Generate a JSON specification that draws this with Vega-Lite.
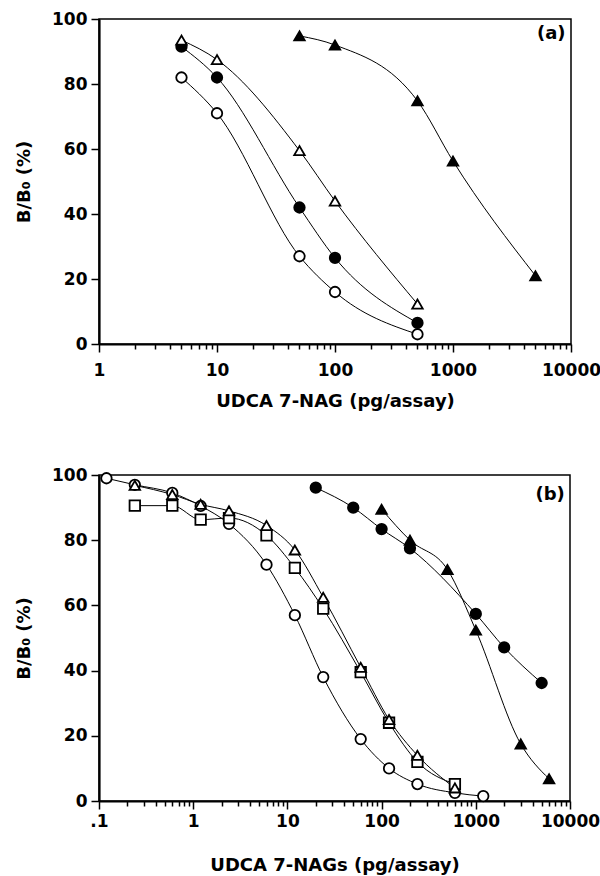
{
  "$schema": "https://vega.github.io/schema/vega-lite/v6.json",
  "background": "white",
  "padding": {"left": 14, "top": 9, "right": 2, "bottom": 1},
  "spacing": 54,
  "config": {
    "font": "DejaVu Sans",
    "view": {"stroke": "black", "strokeWidth": 1.5},
    "axis": {
      "grid": false,
      "domainColor": "black", "domainWidth": 2.2,
      "tickColor": "black", "tickWidth": 1.5, "tickSize": 8,
      "labelFont": "DejaVu Sans", "labelFontWeight": "bold", "labelFontSize": 17, "labelColor": "black",
      "titleFont": "DejaVu Sans", "titleFontWeight": "bold", "titleFontSize": 18, "titleColor": "black"
    }
  },
  "datasets": {
    "a": [
      {"s": "oc", "x": 5, "y": 82}, {"s": "oc", "x": 10, "y": 71}, {"s": "oc", "x": 50, "y": 27}, {"s": "oc", "x": 100, "y": 16}, {"s": "oc", "x": 500, "y": 3},
      {"s": "fc", "x": 5, "y": 91.5}, {"s": "fc", "x": 10, "y": 82}, {"s": "fc", "x": 50, "y": 42}, {"s": "fc", "x": 100, "y": 26.5}, {"s": "fc", "x": 500, "y": 6.5},
      {"s": "ot", "x": 5, "y": 93.5}, {"s": "ot", "x": 10, "y": 87.5}, {"s": "ot", "x": 50, "y": 59.5}, {"s": "ot", "x": 100, "y": 44}, {"s": "ot", "x": 500, "y": 12.3},
      {"s": "ft", "x": 50, "y": 94.8}, {"s": "ft", "x": 100, "y": 92}, {"s": "ft", "x": 500, "y": 74.8}, {"s": "ft", "x": 1000, "y": 56.3}, {"s": "ft", "x": 5000, "y": 21}
    ],
    "b": [
      {"s": "oc", "x": 0.12, "y": 99}, {"s": "oc", "x": 0.24, "y": 97}, {"s": "oc", "x": 0.6, "y": 94.5}, {"s": "oc", "x": 1.2, "y": 90.5}, {"s": "oc", "x": 2.4, "y": 85}, {"s": "oc", "x": 6, "y": 72.5}, {"s": "oc", "x": 12, "y": 57}, {"s": "oc", "x": 24, "y": 38}, {"s": "oc", "x": 60, "y": 19}, {"s": "oc", "x": 120, "y": 10}, {"s": "oc", "x": 240, "y": 5.2}, {"s": "oc", "x": 600, "y": 2.5}, {"s": "oc", "x": 1200, "y": 1.5},
      {"s": "os", "x": 0.24, "y": 90.6}, {"s": "os", "x": 0.6, "y": 90.6}, {"s": "os", "x": 1.2, "y": 86.3}, {"s": "os", "x": 2.4, "y": 86.8}, {"s": "os", "x": 6, "y": 81.5}, {"s": "os", "x": 12, "y": 71.5}, {"s": "os", "x": 24, "y": 59}, {"s": "os", "x": 60, "y": 39.5}, {"s": "os", "x": 120, "y": 24}, {"s": "os", "x": 240, "y": 12}, {"s": "os", "x": 600, "y": 5.2},
      {"s": "ot", "x": 0.24, "y": 96.8}, {"s": "ot", "x": 0.6, "y": 94}, {"s": "ot", "x": 1.2, "y": 91}, {"s": "ot", "x": 2.4, "y": 89}, {"s": "ot", "x": 6, "y": 84.5}, {"s": "ot", "x": 12, "y": 77}, {"s": "ot", "x": 24, "y": 62.5}, {"s": "ot", "x": 60, "y": 41}, {"s": "ot", "x": 120, "y": 25}, {"s": "ot", "x": 240, "y": 14}, {"s": "ot", "x": 600, "y": 4},
      {"s": "fc", "x": 20, "y": 96.1}, {"s": "fc", "x": 50, "y": 90}, {"s": "fc", "x": 100, "y": 83.4}, {"s": "fc", "x": 200, "y": 77.5}, {"s": "fc", "x": 1000, "y": 57.4}, {"s": "fc", "x": 2000, "y": 47.1}, {"s": "fc", "x": 5000, "y": 36.2},
      {"s": "ft", "x": 100, "y": 89.5}, {"s": "ft", "x": 200, "y": 80}, {"s": "ft", "x": 500, "y": 71}, {"s": "ft", "x": 1000, "y": 52.4}, {"s": "ft", "x": 3000, "y": 17.5}, {"s": "ft", "x": 6000, "y": 6.8}
    ],
    "labA": [{"t": "(a)"}],
    "labB": [{"t": "(b)"}]
  },
  "vconcat": [
    {
      "width": 472, "height": 325,
      "layer": [
        {
          "data": {"name": "a"},
          "mark": {"type": "line", "interpolate": "monotone", "color": "black", "strokeWidth": 1},
          "encoding": {
            "x": {"field": "x", "type": "quantitative", "scale": {"type": "log", "domain": [1, 10000]},
              "axis": {"title": "UDCA 7-NAG (pg/assay)", "values": [1,2,3,4,5,6,7,8,9,10,20,30,40,50,60,70,80,90,100,200,300,400,500,600,700,800,900,1000,2000,3000,4000,5000,6000,7000,8000,9000,10000],
                "labelExpr": "(datum.value==1||datum.value==10||datum.value==100||datum.value==1000||datum.value==10000) ? format(datum.value,'d') : ''",
                "tickSize": {"condition": {"test": "datum.value==1||datum.value==10||datum.value==100||datum.value==1000||datum.value==10000", "value": 8}, "value": 5},
                "labelPadding": 10, "titlePadding": 14, "labelFlush": false, "labelOverlap": false}},
            "y": {"field": "y", "type": "quantitative", "scale": {"domain": [0, 100]},
              "axis": {"title": "B/B₀ (%)", "values": [0,10,20,30,40,50,60,70,80,90,100],
                "labelExpr": "datum.value % 20 == 0 ? datum.label : ''",
                "tickSize": {"condition": {"test": "datum.value % 20 == 0", "value": 8}, "value": 5},
                "labelPadding": 4, "titlePadding": 18, "labelOverlap": false}},
            "detail": {"field": "s"}
          }
        },
        {
          "data": {"name": "a"},
          "mark": {"type": "point", "filled": true, "stroke": "black", "strokeWidth": 1.8, "size": 110, "opacity": 1},
          "encoding": {
            "x": {"field": "x", "type": "quantitative"},
            "y": {"field": "y", "type": "quantitative"},
            "shape": {"field": "s", "type": "nominal", "legend": null, "scale": {"domain": ["oc","fc","ot","ft","os"], "range": ["circle","circle","triangle-up","triangle-up","square"]}},
            "fill": {"field": "s", "type": "nominal", "legend": null, "scale": {"domain": ["oc","fc","ot","ft","os"], "range": ["white","black","white","black","white"]}}
          }
        },
        {
          "data": {"name": "labA"},
          "mark": {"type": "text", "align": "right", "baseline": "middle", "fontSize": 18, "fontWeight": "bold", "font": "DejaVu Sans", "color": "black"},
          "encoding": {"x": {"datum": 9000}, "y": {"datum": 95.4}, "text": {"field": "t"}}
        }
      ]
    },
    {
      "width": 471, "height": 326,
      "layer": [
        {
          "data": {"name": "b"},
          "mark": {"type": "line", "interpolate": "monotone", "color": "black", "strokeWidth": 1},
          "encoding": {
            "x": {"field": "x", "type": "quantitative", "scale": {"type": "log", "domain": [0.1, 10000]},
              "axis": {"title": "UDCA 7-NAGs (pg/assay)", "values": [0.1,0.2,0.3,0.4,0.5,0.6,0.7,0.8,0.9,1,2,3,4,5,6,7,8,9,10,20,30,40,50,60,70,80,90,100,200,300,400,500,600,700,800,900,1000,2000,3000,4000,5000,6000,7000,8000,9000,10000],
                "labelExpr": "datum.value==0.1 ? '.1' : ((datum.value==1||datum.value==10||datum.value==100||datum.value==1000||datum.value==10000) ? format(datum.value,'d') : '')",
                "tickSize": {"condition": {"test": "datum.value==0.1||datum.value==1||datum.value==10||datum.value==100||datum.value==1000||datum.value==10000", "value": 8}, "value": 5},
                "labelPadding": 4, "titlePadding": 27, "labelFlush": false, "labelOverlap": false}},
            "y": {"field": "y", "type": "quantitative", "scale": {"domain": [0, 100]},
              "axis": {"title": "B/B₀ (%)", "values": [0,10,20,30,40,50,60,70,80,90,100],
                "labelExpr": "datum.value % 20 == 0 ? datum.label : ''",
                "tickSize": {"condition": {"test": "datum.value % 20 == 0", "value": 8}, "value": 5},
                "labelPadding": 4, "titlePadding": 18, "labelOverlap": false}},
            "detail": {"field": "s"}
          }
        },
        {
          "data": {"name": "b"},
          "mark": {"type": "point", "filled": true, "stroke": "black", "strokeWidth": 1.8, "size": 110, "opacity": 1},
          "encoding": {
            "x": {"field": "x", "type": "quantitative"},
            "y": {"field": "y", "type": "quantitative"},
            "shape": {"field": "s", "type": "nominal", "legend": null, "scale": {"domain": ["oc","fc","ot","ft","os"], "range": ["circle","circle","triangle-up","triangle-up","square"]}},
            "fill": {"field": "s", "type": "nominal", "legend": null, "scale": {"domain": ["oc","fc","ot","ft","os"], "range": ["white","black","white","black","white"]}}
          }
        },
        {
          "data": {"name": "labB"},
          "mark": {"type": "text", "align": "right", "baseline": "middle", "fontSize": 18, "fontWeight": "bold", "font": "DejaVu Sans", "color": "black"},
          "encoding": {"x": {"datum": 8800}, "y": {"datum": 94}, "text": {"field": "t"}}
        }
      ]
    }
  ]
}
